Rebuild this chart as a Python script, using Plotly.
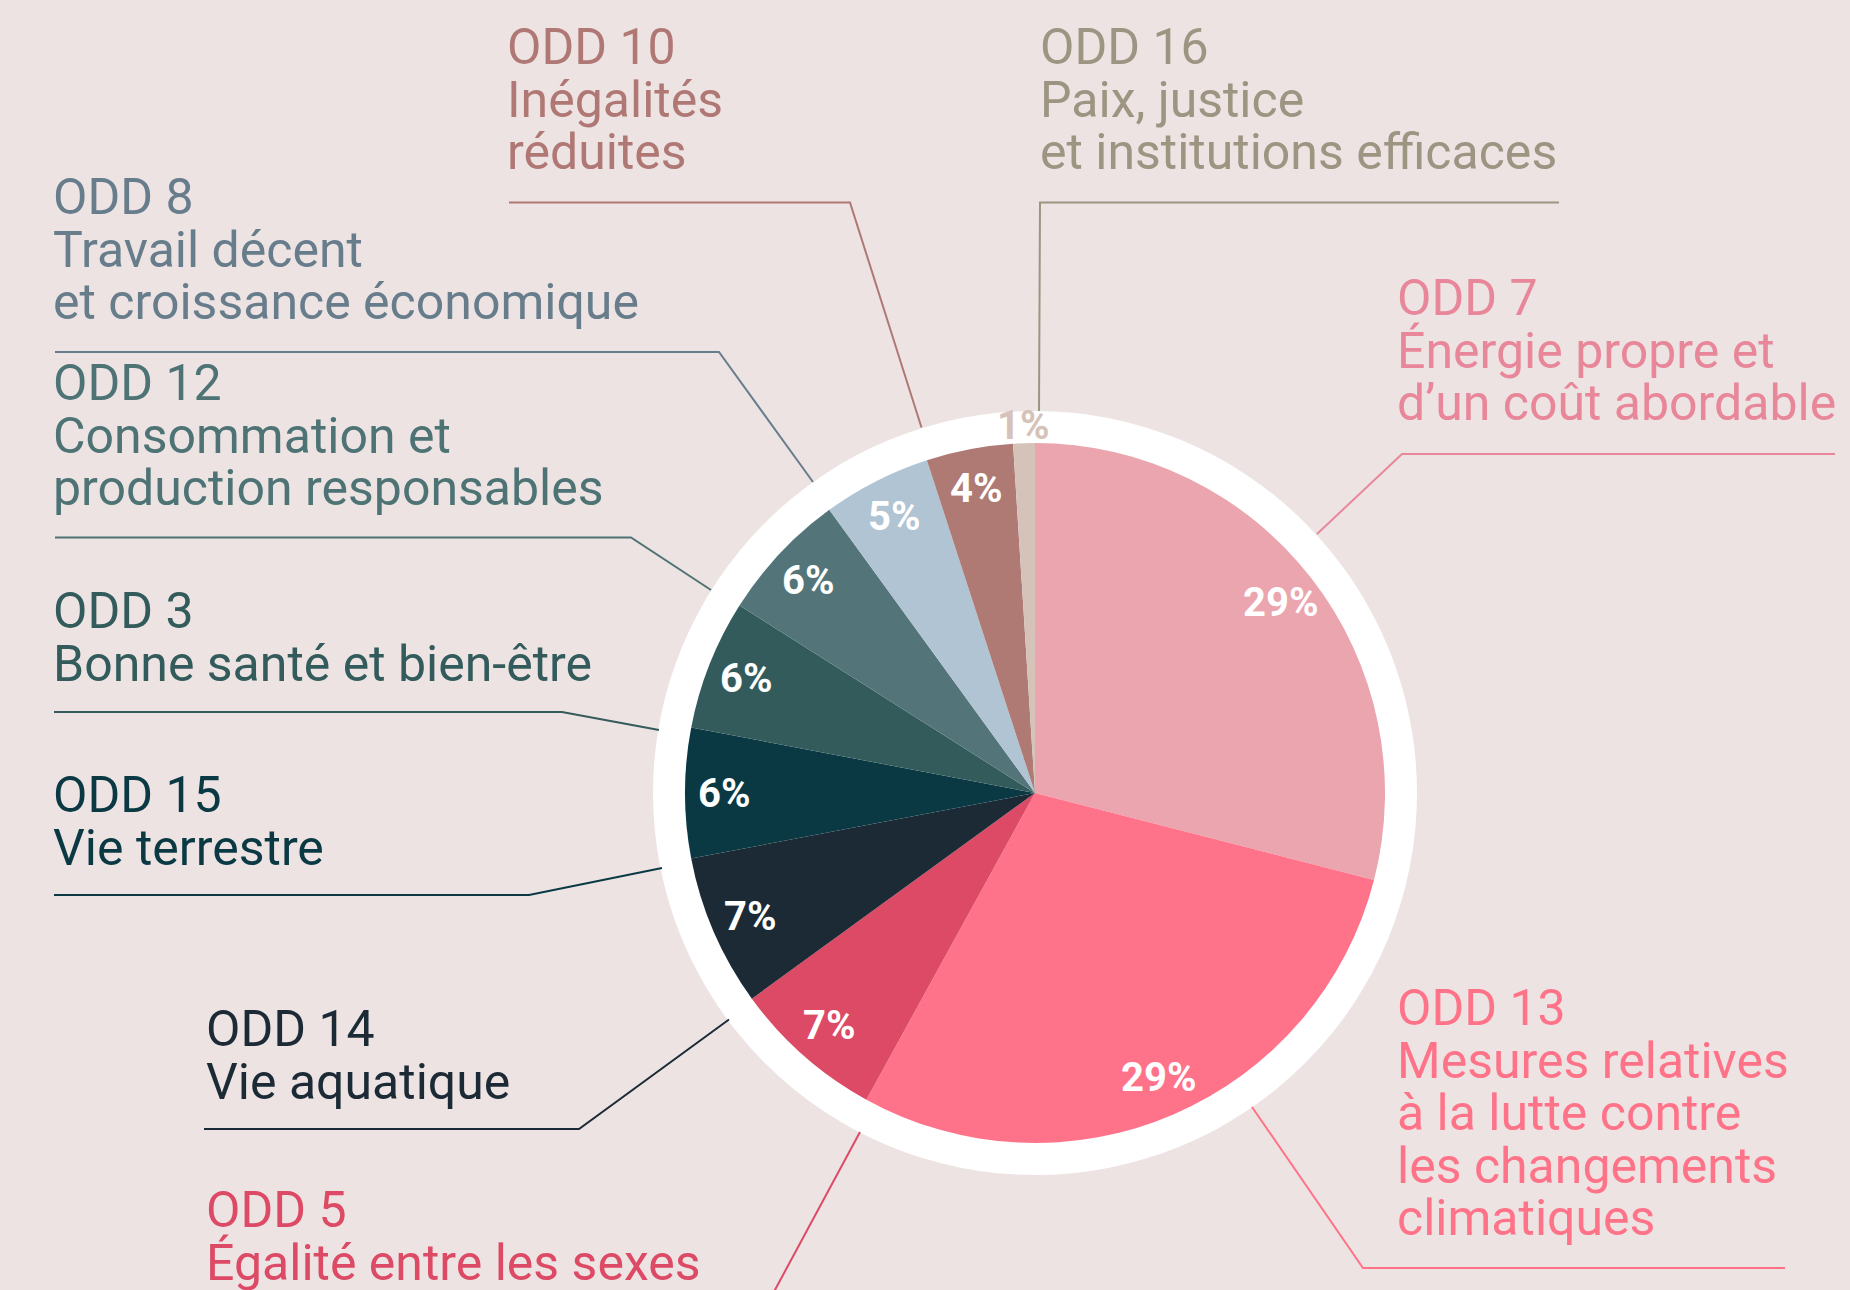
import math
import plotly.graph_objects as go

# ---------------- data ----------------
goals = ["ODD 7", "ODD 13", "ODD 5", "ODD 14", "ODD 15",
         "ODD 3", "ODD 12", "ODD 8", "ODD 10", "ODD 16"]
goal_titles = [
    ["Énergie propre et", "d’un coût abordable"],
    ["Mesures relatives", "à la lutte contre", "les changements", "climatiques"],
    ["Égalité entre les sexes"],
    ["Vie aquatique"],
    ["Vie terrestre"],
    ["Bonne santé et bien-être"],
    ["Consommation et", "production responsables"],
    ["Travail décent", "et croissance économique"],
    ["Inégalités", "réduites"],
    ["Paix, justice", "et institutions efficaces"],
]
shares = [29, 29, 7, 7, 6, 6, 6, 5, 4, 1]

# ---------------- styles ----------------
slice_colors = ["#EBA5AF", "#FF738A", "#DD4A65", "#1B2A35", "#0A3944",
                "#335B5B", "#53757A", "#B0C4D3", "#AF7A74", "#D5C3B9"]
text_colors = ["#E8879A", "#FF7389", "#DD4A65", "#1B2A35", "#0A3944",
               "#335B5B", "#4E7375", "#687D8C", "#B07874", "#9E9482"]
BG = "#EDE3E3"
W, H = 1850, 1290
CX, CY, R, RING = 1035, 793, 350, 382
FONT = "Roboto"
FS = 50
LINE_GAP = 52.5

# label block layout (pixel positions): text left x, first baseline, leader polyline
label_layout = {
    "ODD 7": dict(x=1396, base=317, leader=[(1317, 534), (1402, 454), (1835, 454)]),
    "ODD 13": dict(x=1396, base=1027, leader=[(1252, 1107), (1363, 1268), (1785, 1268)]),
    "ODD 5": dict(x=205, base=1228.5, leader=[(860, 1132), (748, 1340)]),
    "ODD 14": dict(x=205, base=1048, leader=[(729, 1019.5), (579, 1129), (204, 1129)]),
    "ODD 15": dict(x=52, base=813.7, leader=[(662, 868), (529, 895), (54, 895)]),
    "ODD 3": dict(x=52, base=629.8, leader=[(659, 730), (562, 712), (54, 712)]),
    "ODD 12": dict(x=52, base=401.8, leader=[(711, 590), (631, 537.5), (55, 537.5)]),
    "ODD 8": dict(x=52, base=216, leader=[(813, 482), (719, 352), (55, 352)]),
    "ODD 10": dict(x=506, base=66, leader=[(921.5, 427.5), (850, 202.5), (509, 202.5)]),
    "ODD 16": dict(x=1039, base=66, leader=[(1039, 411), (1040, 202.5), (1559, 202.5)]),
}

fig = go.Figure()

# invisible trace to create pixel-based cartesian space for decorations
fig.add_trace(go.Scatter(x=[0], y=[0], mode="markers", marker=dict(opacity=0),
                         hoverinfo="skip", showlegend=False))

fig.add_trace(go.Pie(
    labels=goals, values=shares, sort=False, direction="clockwise", rotation=0,
    marker=dict(colors=slice_colors, line=dict(width=0)),
    textinfo="none", showlegend=False,
    domain=dict(x=[(CX - R) / W, (CX + R) / W],
                y=[1 - (CY + R) / H, 1 - (CY - R) / H]),
))

shapes = [dict(type="circle", xref="x", yref="y", layer="below",
               x0=CX - RING, x1=CX + RING, y0=CY - RING, y1=CY + RING,
               fillcolor="white", line=dict(width=0))]
annotations = []

base_fs = LINE_GAP / 1.3  # plotly line spacing is 1.3em of the base font

total = sum(shares)
cum = 0
for g, titles, v, sc, tc in zip(goals, goal_titles, shares, slice_colors, text_colors):
    mid = (cum + v / 2) / total * 2 * math.pi
    cum += v
    if v < 2:
        r, col = RING - 14, sc
    else:
        r, col = 0.886 * R, "white"
    annotations.append(dict(
        x=CX + r * math.sin(mid), y=CY - r * math.cos(mid), xref="x", yref="y",
        text=f"{v}%", showarrow=False, xanchor="center", yanchor="middle",
        font=dict(family=FONT, size=40, color=col, weight=700), borderpad=0))

    lay = label_layout[g]
    block = "<br>".join(f'<span style="font-size:{FS}px">{line}</span>'
                        for line in [g] + titles)
    annotations.append(dict(
        x=lay["x"], y=lay["base"] - 0.975 * FS, xref="x", yref="y",
        text=block, showarrow=False, xanchor="left", yanchor="top", align="left",
        font=dict(family=FONT, size=base_fs, color=tc), borderpad=0))
    pts = lay["leader"]
    path = "M " + " L ".join(f"{px},{py}" for px, py in pts)
    shapes.append(dict(type="path", xref="x", yref="y", layer="below", path=path,
                       line=dict(color=tc, width=2)))

fig.update_layout(
    width=W, height=H, margin=dict(l=0, r=0, t=0, b=0, pad=0),
    paper_bgcolor=BG, plot_bgcolor=BG,
    xaxis=dict(range=[0, W], visible=False, fixedrange=True, showgrid=False, zeroline=False),
    yaxis=dict(range=[H, 0], visible=False, fixedrange=True, showgrid=False, zeroline=False),
    shapes=shapes, annotations=annotations, showlegend=False,
)

fig.write_html("out.html", config={"displayModeBar": False},
               post_script="document.body.style.margin='0';")
